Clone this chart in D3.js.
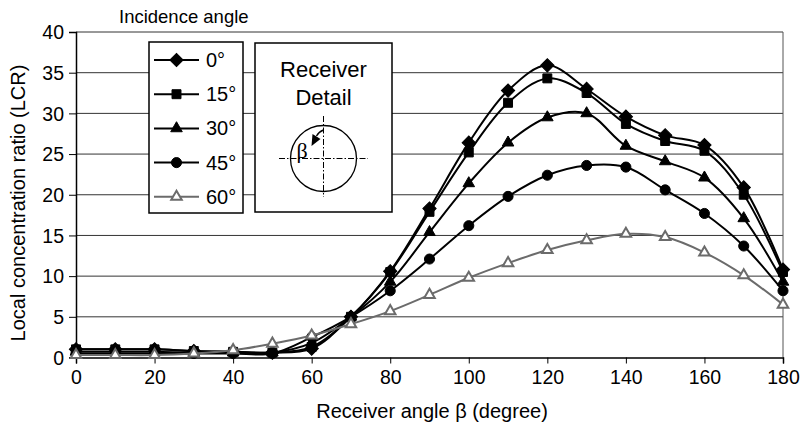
<!DOCTYPE html>
<html>
<head>
<meta charset="utf-8">
<script src="https://cdn.jsdelivr.net/npm/d3@7"></script>
<style>
  body { margin: 0; background: #fff; }
  text { font-family: "Liberation Sans", Arial, sans-serif; fill: #000; }
</style>
</head>
<body>
<div id="chart"></div>
<script>
// receiver angle (deg) on the x axis
const angles = [0, 10, 20, 30, 40, 50, 60, 70, 80, 90, 100, 110, 120, 130, 140, 150, 160, 170, 180];

// local concentration ratio per incidence angle
const lcr0 = [1.0, 1.0, 1.0, 0.8, 0.7, 0.6, 1.1, 5.0, 10.6, 18.3, 26.4, 32.8, 35.9, 33.0, 29.6, 27.3, 26.1, 20.9, 10.8];
const lcr15 = [1.0, 1.0, 1.0, 0.8, 0.7, 0.6, 1.3, 5.0, 10.5, 17.9, 25.2, 31.3, 34.3, 32.5, 28.7, 26.6, 25.4, 20.0, 10.5];
const lcr30 = [0.7, 0.7, 0.7, 0.6, 0.6, 0.6, 1.8, 5.0, 9.3, 15.4, 21.4, 26.4, 29.5, 30.0, 26.0, 24.1, 22.1, 17.1, 9.3];
const lcr45 = [0.5, 0.5, 0.5, 0.5, 0.5, 0.5, 2.5, 5.0, 8.2, 12.1, 16.2, 19.8, 22.4, 23.6, 23.4, 20.6, 17.7, 13.7, 8.2];
const lcr60 = [0.3, 0.3, 0.3, 0.5, 0.9, 1.7, 2.7, 4.1, 5.7, 7.7, 9.8, 11.6, 13.2, 14.4, 15.2, 14.8, 12.9, 10.1, 6.5];

const seriesNames = ["0°", "15°", "30°", "45°", "60°"];
const xTicks = [0, 20, 40, 60, 80, 100, 120, 140, 160, 180];
const yTicks = [0, 5, 10, 15, 20, 25, 30, 35, 40];

const W = 803, H = 426;
const svg = d3.select("#chart").append("svg")
  .attr("width", W).attr("height", H);

const x = d3.scaleLinear().domain([0, 180]).range([76, 783]);
const y = d3.scaleLinear().domain([0, 40]).range([357.5, 32]);

// gridlines
svg.append("g").selectAll("line")
  .data(yTicks.filter(d => d > 0))
  .enter().append("line")
  .attr("x1", x(0)).attr("x2", x(180))
  .attr("y1", d => y(d)).attr("y2", d => y(d))
  .attr("stroke", "#333").attr("stroke-width", 1);

// right border of plot area
svg.append("line")
  .attr("x1", x(180)).attr("x2", x(180))
  .attr("y1", y(40)).attr("y2", y(0))
  .attr("stroke", "#555").attr("stroke-width", 1);

// axes
const xAxis = svg.append("g")
  .attr("transform", `translate(0,${y(0)})`)
  .call(d3.axisBottom(x).tickValues(xTicks).tickSize(6).tickPadding(7).tickFormat(d3.format("d")));
const yAxis = svg.append("g")
  .attr("transform", `translate(${x(0)},0)`)
  .call(d3.axisLeft(y).tickValues(yTicks).tickSize(7).tickPadding(5));
[xAxis, yAxis].forEach(a => {
  a.select(".domain").attr("stroke", "#000").attr("stroke-width", 1.5);
  a.selectAll(".tick line").attr("stroke", "#000").attr("stroke-width", 1);
  a.selectAll("text").style("font-size", "19.5px").attr("fill", "#000")
    .style("font-family", "Liberation Sans, Arial, sans-serif");
});
yAxis.selectAll("text").attr("dy", "0.35em");

// axis titles
svg.append("text")
  .attr("x", 432).attr("y", 418)
  .attr("text-anchor", "middle")
  .style("font-size", "20px")
  .text("Receiver angle β (degree)");
svg.append("text")
  .attr("transform", "translate(25,203) rotate(-90)")
  .attr("text-anchor", "middle")
  .style("font-size", "20px")
  .text("Local concentration ratio (LCR)");
svg.append("text")
  .attr("x", 119).attr("y", 23)
  .style("font-size", "18.5px")
  .text("Incidence angle");

// series
const series = [
  { name: seriesNames[0], values: lcr0, color: "#000", shape: "diamond" },
  { name: seriesNames[1], values: lcr15, color: "#000", shape: "square" },
  { name: seriesNames[2], values: lcr30, color: "#000", shape: "triangle" },
  { name: seriesNames[3], values: lcr45, color: "#000", shape: "circle" },
  { name: seriesNames[4], values: lcr60, color: "#6b6b6b", shape: "openTriangle" }
];

function markerPath(shape) {
  if (shape === "diamond") return d3.symbol(d3.symbolSquare, 88)();
  if (shape === "square") return d3.symbol(d3.symbolSquare, 80)();
  if (shape === "circle") return d3.symbol(d3.symbolCircle, 80)();
  if (shape === "triangle") return d3.symbol(d3.symbolTriangle, 58)();
  return d3.symbol(d3.symbolTriangle, 48)();
}

function drawMarker(sel, s) {
  sel.append("path")
    .attr("d", markerPath(s.shape))
    .attr("transform", s.shape === "diamond" ? "rotate(45)" : null)
    .attr("fill", s.shape === "openTriangle" ? "#fff" : s.color)
    .attr("stroke", s.color)
    .attr("stroke-width", s.shape === "openTriangle" ? 2 : 1);
}

const line = d3.line()
  .x((d, i) => x(angles[i]))
  .y(d => y(d))
  .curve(d3.curveCatmullRom.alpha(0.5));

series.forEach(s => {
  const g = svg.append("g");
  g.append("path")
    .datum(s.values)
    .attr("d", line)
    .attr("fill", "none")
    .attr("stroke", s.color)
    .attr("stroke-width", 2);
  g.selectAll("g.pt")
    .data(s.values)
    .enter().append("g")
    .attr("class", "pt")
    .attr("transform", (d, i) => `translate(${x(angles[i])},${y(d)})`)
    .each(function() { drawMarker(d3.select(this), s); });
});

// legend
const legend = svg.append("g");
legend.append("rect")
  .attr("x", 149).attr("y", 42).attr("width", 94).attr("height", 171)
  .attr("fill", "#fff").attr("stroke", "#000").attr("stroke-width", 1.5);
series.forEach((s, i) => {
  const ly = 60 + i * 34.2;
  legend.append("line")
    .attr("x1", 154).attr("x2", 199).attr("y1", ly).attr("y2", ly)
    .attr("stroke", s.color).attr("stroke-width", 2);
  const m = legend.append("g").attr("transform", `translate(176.5,${ly})`);
  drawMarker(m, s);
  legend.append("text")
    .attr("x", 206).attr("y", ly).attr("dy", "0.35em")
    .style("font-size", "20px")
    .text(s.name);
});

// receiver detail box
const det = svg.append("g");
det.append("rect")
  .attr("x", 255).attr("y", 43).attr("width", 137).attr("height", 169)
  .attr("fill", "#fff").attr("stroke", "#000").attr("stroke-width", 1.5);
det.append("text").attr("x", 323.5).attr("y", 77)
  .attr("text-anchor", "middle").style("font-size", "22px").text("Receiver");
det.append("text").attr("x", 323.5).attr("y", 105)
  .attr("text-anchor", "middle").style("font-size", "22px").text("Detail");
const cx = 323.5, cy = 158.5;
det.append("circle").attr("cx", cx).attr("cy", cy).attr("r", 33)
  .attr("fill", "none").attr("stroke", "#000").attr("stroke-width", 1.3);
det.append("line").attr("x1", 279).attr("x2", 368).attr("y1", cy).attr("y2", cy)
  .attr("stroke", "#000").attr("stroke-width", 1).attr("stroke-dasharray", "6,2,1.5,2");
det.append("line").attr("x1", cx).attr("x2", cx).attr("y1", 116).attr("y2", 197)
  .attr("stroke", "#000").attr("stroke-width", 1).attr("stroke-dasharray", "6,2,1.5,2");
// rotation arrow for beta
det.append("path")
  .attr("d", `M${cx},130 A13,13 0 0,0 ${cx - 7},136`)
  .attr("fill", "none").attr("stroke", "#000").attr("stroke-width", 1.4);
det.append("path")
  .attr("d", `M${cx - 12},146 L${cx - 11},134 L${cx - 3},139 Z`)
  .attr("fill", "#000");
det.append("text").attr("x", 302).attr("y", 158)
  .attr("text-anchor", "middle")
  .style("font-family", "Liberation Serif, serif").style("font-size", "22px")
  .text("β");
</script>
</body>
</html>
